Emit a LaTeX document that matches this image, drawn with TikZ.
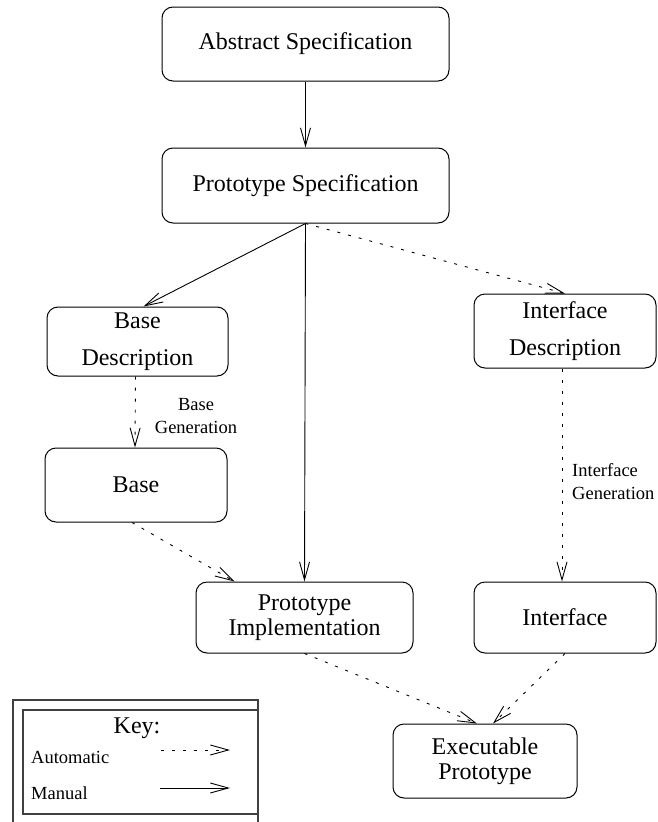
\documentclass[tikz,border=0pt]{standalone}
\usepackage{fontspec}
\setmainfont{Liberation Serif}
\usetikzlibrary{arrows.meta}
\begin{document}
\begin{tikzpicture}[x=1pt,y=-1pt,
    boite/.style={draw,rounded corners=11pt,line width=1pt,inner sep=0pt,align=center,
      font=\fontsize{24}{25}\selectfont},
    manuel/.style={line width=0.9pt,-{Straight Barb[length=18pt,width=10pt]}},
    automatique/.style={manuel,dash pattern=on 3pt off 8pt},
    petit/.style={align=center,inner sep=0pt,font=\fontsize{18.5}{23}\selectfont}]
    \useasboundingbox (0,0) rectangle (658,822);
    % boites
    \node[boite,minimum width=287pt,minimum height=74pt] (abs) at (305.5,44) {Abstract Specification};
    \node[boite,minimum width=287pt,minimum height=75pt] (pspec) at (305.5,185.5) {Prototype Specification};
    \node[boite,minimum width=181pt,minimum height=69pt] (bdesc) at (137.5,341.5) {Base\\[12pt]Description};
    \node[boite,minimum width=182pt,minimum height=74pt] (base) at (136,485) {Base};
    \node[boite,minimum width=182pt,minimum height=74pt] (idesc) at (565,331) {Interface\\[12pt]Description};
    \node[boite,minimum width=182pt,minimum height=71pt] (iface) at (565,617.5) {Interface};
    \node[boite,minimum width=217pt,minimum height=71pt] (pimpl) at (304.5,617.5) {Prototype\\Implementation};
    \node[boite,minimum width=184pt,minimum height=74pt] (exec) at (485,761) {Executable\\Prototype};
    % fleches
    \coordinate (fourche) at (pspec.south);
    \draw[manuel] (abs.south) -- (pspec.north);
    \draw[manuel] (fourche) -- ([xshift=6pt]bdesc.north);
    \draw[manuel] (fourche) -- (pimpl.north);
    \draw[automatique] (fourche) -- (idesc.north);
    \draw[automatique] ([xshift=-2pt]bdesc.south) -- ([xshift=-1pt]base.north);
    \node[petit] (bgen) at (196,416) {Base\\Generation};
    \draw[automatique] ([xshift=-4pt]base.south) -- ([xshift=-70pt]pimpl.north);
    \draw[automatique] ([xshift=-3pt]idesc.south) -- ([xshift=-3pt]iface.north);
    \node[petit,align=left,anchor=west] (igen) at (572,482) {Interface\\Generation};
    \draw[automatique] (pimpl.south) -- ([xshift=-8pt]exec.north);
    \draw[automatique] (iface.south) -- ([xshift=8pt]exec.north);
    % legende
    \draw[line width=1.2pt,black!75] (13,822) -- (13,700) -- (258,700) -- (258,822);
    \draw[line width=1.2pt,black!75] (23,710) rectangle (258,814);
    \node[font=\fontsize{24}{25}\selectfont] (cle) at (137,728) {Key:};
    \node[petit,anchor=west] (txtauto) at (31,757) {Automatic};
    \node[petit,anchor=west] (txtman) at (31,793) {Manual};
    \coordinate (autoA) at (161,750);
    \coordinate (autoB) at (230,750);
    \coordinate (manA) at (160,788);
    \coordinate (manB) at (230,788);
    \draw[automatique] (autoA) -- (autoB);
    \draw[manuel] (manA) -- (manB);
\end{tikzpicture}
\end{document}
